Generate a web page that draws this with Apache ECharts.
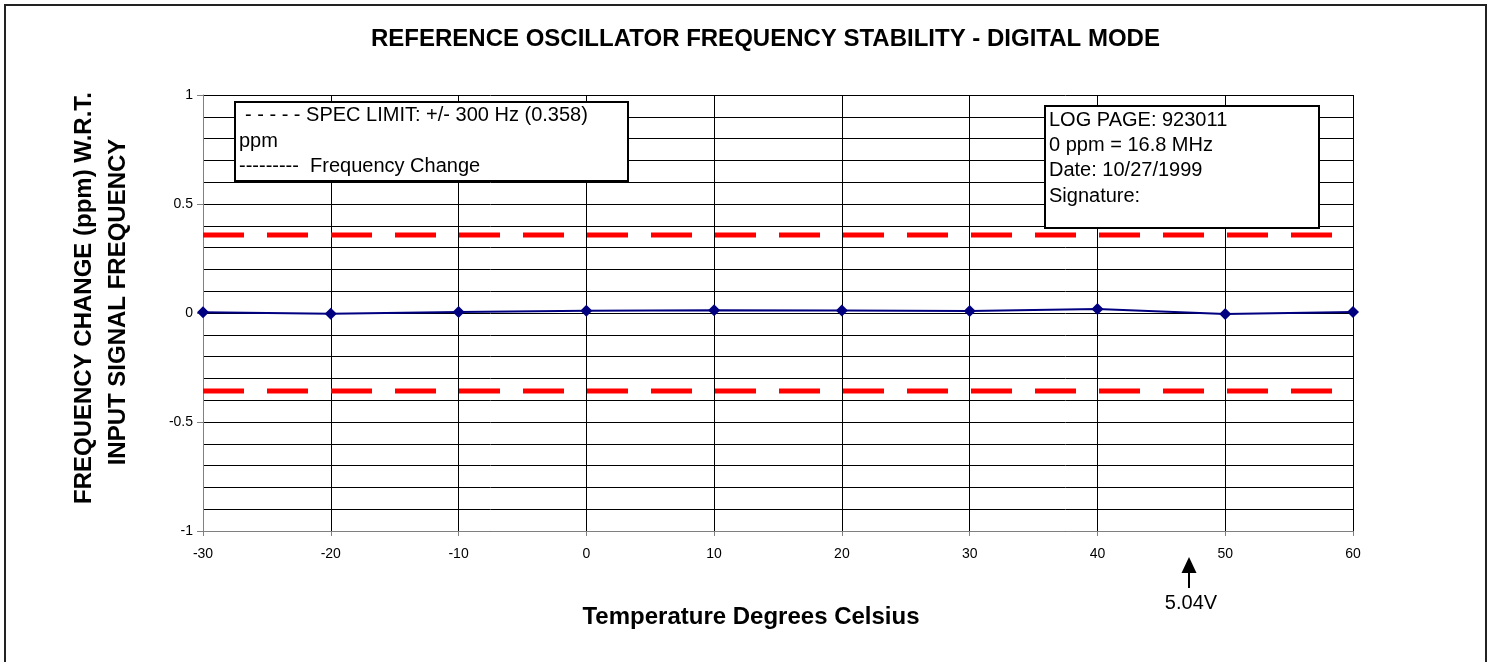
<!DOCTYPE html>
<html>
<head>
<meta charset="utf-8">
<script src="https://cdn.jsdelivr.net/npm/echarts@6/dist/echarts.min.js"></script>
<style>html,body{margin:0;padding:0;background:#fff}#c{width:1494px;height:662px}</style>
</head>
<body>
<div id="c"></div>
<script>
const temperatures = [-30, -20, -10, 0, 10, 20, 30, 40, 50, 60];
const freqChange = [0.003, -0.003, 0.005, 0.010, 0.013, 0.012, 0.009, 0.018, -0.005, 0.005];
const specLimit = 0.358;
const xRange = [-30, 60];
const yRange = [-1, 1];

const FONT = "'Liberation Sans', Arial, sans-serif";
const chart = echarts.init(document.getElementById('c'));

const option = {
  animation: false,
  backgroundColor: '#fff',
  title: {
    text: 'REFERENCE OSCILLATOR FREQUENCY STABILITY - DIGITAL MODE',
    left: 371, top: 27, padding: 0,
    textStyle: {fontFamily: FONT, fontSize: 24, fontWeight: 'bold', color: '#000'}
  },
  grid: {left: 203, right: 141, top: 95, bottom: 131, containLabel: false},
  xAxis: {
    type: 'value', min: xRange[0], max: xRange[1], interval: 10,
    axisLine: {show: true, onZero: false, lineStyle: {color: '#808080', width: 1}},
    axisTick: {show: true, length: 5, lineStyle: {color: '#808080'}},
    axisLabel: {fontFamily: FONT, fontSize: 14, color: '#000', margin: 16},
    splitLine: {show: true, lineStyle: {color: '#000', width: 1}}
  },
  yAxis: {
    type: 'value', min: yRange[0], max: yRange[1], interval: 0.5,
    axisLine: {show: true, onZero: false, lineStyle: {color: '#808080', width: 1}},
    axisTick: {show: true, length: 6, lineStyle: {color: '#808080'}},
    axisLabel: {fontFamily: FONT, fontSize: 14, color: '#000', margin: 10},
    splitLine: {show: true, lineStyle: {color: '#000', width: 1}},
    minorTick: {show: false, splitNumber: 5},
    minorSplitLine: {show: true, lineStyle: {color: '#000', width: 1}}
  },
  series: [
    {
      name: 'SPEC LIMIT +', type: 'line', silent: true,
      data: [[xRange[0], specLimit], [xRange[1], specLimit]],
      symbol: 'none',
      lineStyle: {color: '#ff0000', width: 5, type: [41, 23], cap: 'butt'},
      z: 3
    },
    {
      name: 'SPEC LIMIT -', type: 'line', silent: true,
      data: [[xRange[0], -specLimit], [xRange[1], -specLimit]],
      symbol: 'none',
      lineStyle: {color: '#ff0000', width: 5, type: [41, 23], cap: 'butt'},
      z: 3
    },
    {
      name: 'Frequency Change', type: 'line',
      data: temperatures.map((t, i) => [t, freqChange[i]]),
      symbol: 'diamond', symbolSize: 12,
      itemStyle: {color: '#000080'},
      lineStyle: {color: '#000080', width: 2},
      z: 4
    }
  ],
  graphic: [
    {type: 'rect', shape: {x: 5, y: 5, width: 1481, height: 680}, style: {fill: 'none', stroke: '#222', lineWidth: 2}, z: 1},
    {type: 'rect', shape: {x: 235, y: 102, width: 393, height: 79}, style: {fill: '#fff', stroke: '#000', lineWidth: 2}, z: 10},
    {type: 'text', x: 245, y: 115, style: {text: '- - - - - SPEC LIMIT: +/- 300 Hz (0.358)', font: '20px ' + FONT, fill: '#000', verticalAlign: 'middle'}, z: 11},
    {type: 'text', x: 239, y: 141, style: {text: 'ppm', font: '20px ' + FONT, fill: '#000', verticalAlign: 'middle'}, z: 11},
    {type: 'text', x: 239, y: 166, style: {text: '---------  Frequency Change', font: '20px ' + FONT, fill: '#000', verticalAlign: 'middle'}, z: 11},
    {type: 'rect', shape: {x: 1045, y: 106, width: 274, height: 122}, style: {fill: '#fff', stroke: '#000', lineWidth: 2}, z: 10},
    {type: 'text', x: 1049, y: 120, style: {text: 'LOG PAGE: 923011', font: '20px ' + FONT, fill: '#000', verticalAlign: 'middle'}, z: 11},
    {type: 'text', x: 1049, y: 145, style: {text: '0 ppm = 16.8 MHz', font: '20px ' + FONT, fill: '#000', verticalAlign: 'middle'}, z: 11},
    {type: 'text', x: 1049, y: 170, style: {text: 'Date: 10/27/1999', font: '20px ' + FONT, fill: '#000', verticalAlign: 'middle'}, z: 11},
    {type: 'text', x: 1049, y: 196, style: {text: 'Signature:', font: '20px ' + FONT, fill: '#000', verticalAlign: 'middle'}, z: 11},
    {type: 'text', x: 751, y: 617, style: {text: 'Temperature Degrees Celsius', font: 'bold 24px ' + FONT, fill: '#000', align: 'center', verticalAlign: 'middle'}, z: 11},
    {type: 'text', x: 84, y: 298, rotation: Math.PI / 2, style: {text: 'FREQUENCY CHANGE (ppm) W.R.T.', font: 'bold 24px ' + FONT, fill: '#000', align: 'center', verticalAlign: 'middle'}, z: 11},
    {type: 'text', x: 118, y: 302, rotation: Math.PI / 2, style: {text: 'INPUT SIGNAL FREQUENCY', font: 'bold 24px ' + FONT, fill: '#000', align: 'center', verticalAlign: 'middle'}, z: 11},
    {type: 'polygon', shape: {points: [[1189, 557], [1181.5, 573], [1196.5, 573]]}, style: {fill: '#000'}, z: 11},
    {type: 'line', shape: {x1: 1189, y1: 572, x2: 1189, y2: 588}, style: {stroke: '#000', lineWidth: 2}, z: 11},
    {type: 'text', x: 1191, y: 603, style: {text: '5.04V', font: '20px ' + FONT, fill: '#000', align: 'center', verticalAlign: 'middle'}, z: 11}
  ]
};
chart.setOption(option);
</script>
</body>
</html>
